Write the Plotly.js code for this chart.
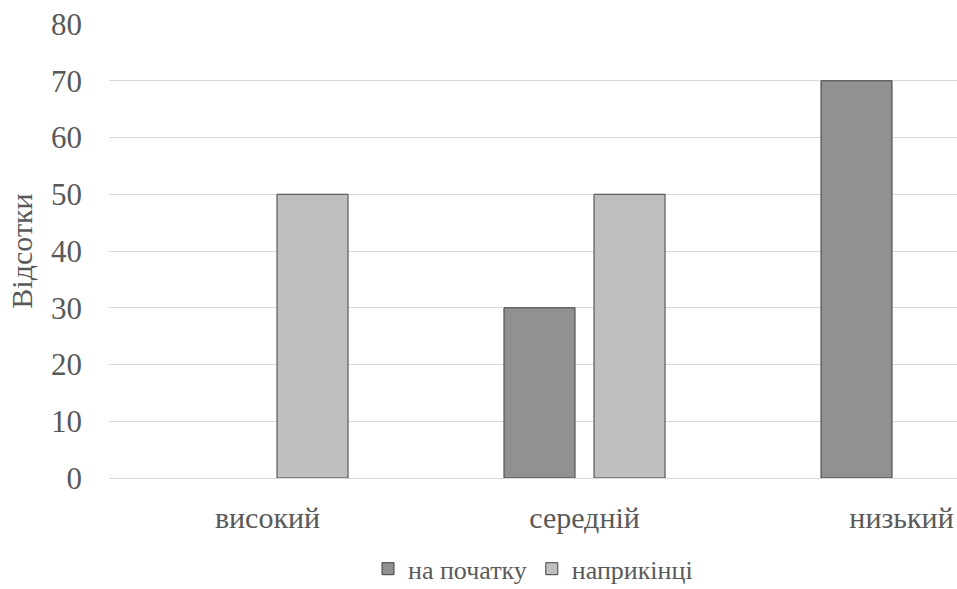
<!DOCTYPE html>
<html>
<head>
<meta charset="utf-8">
<script src="https://cdn.plot.ly/plotly-3.0.1.min.js"></script>
<style>html,body{margin:0;padding:0;background:#fff;}#chart{width:957px;height:589px;}</style>
</head>
<body>
<div id="chart"></div>
<script>
const categories = ["високий", "середній", "низький"];
const seriesNames = ["на початку", "наприкінці"];
const startValues = [0, 30, 70];
const endValues = [50, 50, 0];
const yTicks = [0, 10, 20, 30, 40, 50, 60, 70, 80];

const font = "Liberation Serif, Times New Roman, DejaVu Serif, serif";
const textColor = "#595959";
// zero-height bars are not drawn in the reference
const hideZero = vals => vals.map(v => (v === 0 ? null : v));

const traces = [
  {type: "bar", name: seriesNames[0], x: categories, y: hideZero(startValues),
   marker: {color: "#919191", line: {color: "#404040", width: 1}}},
  {type: "bar", name: seriesNames[1], x: categories, y: hideZero(endValues),
   marker: {color: "#bfbfbf", line: {color: "#404040", width: 1}}}
];

const layout = {
  width: 957, height: 589,
  margin: {l: 109, r: 0, t: 24, b: 111, autoexpand: false},
  paper_bgcolor: "#fff", plot_bgcolor: "#fff",
  font: {family: font, color: textColor, size: 30},
  barmode: "group", bargap: 0.432, bargroupgap: 0.211,
  xaxis: {type: "category", range: [-0.5, 2.175], showgrid: false, zeroline: false,
          showline: false, ticks: "", ticklabelstandoff: 19,
          tickfont: {family: font, size: 30, color: textColor}},
  yaxis: {range: [0, 80], tickvals: yTicks, showgrid: true, gridcolor: "#d9d9d9", gridwidth: 1,
          zeroline: true, zerolinecolor: "#d9d9d9", zerolinewidth: 1, showline: false, ticks: "",
          ticklabelstandoff: 26, tickfont: {family: font, size: 31, color: textColor},
          title: {text: "Відсотки", font: {family: font, size: 30, color: textColor}, standoff: 9}},
  showlegend: true,
  legend: {orientation: "h", x: 0.5, xanchor: "center", y: -0.2, yanchor: "middle",
           font: {family: font, size: 26, color: textColor}, traceorder: "normal"}
};

Plotly.newPlot("chart", traces, layout, {displayModeBar: false, staticPlot: true});
</script>
</body>
</html>
